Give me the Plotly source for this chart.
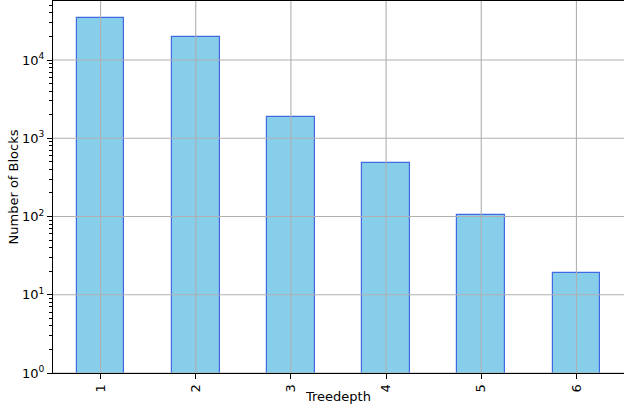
import math
import plotly.graph_objects as go

# Block counts per tree depth (log-scaled bar chart)
depths = ["1", "2", "3", "4", "5", "6"]
blocks = [34800, 19900, 1880, 482, 104, 19]

# Decade tick exponents and labels on the log axis
decade_exps = [0, 1, 2, 3, 4]
decade_labels = [f"10<sup>{e}</sup>" for e in decade_exps]
y_top_exp = 4.755

FONT = "DejaVu Sans"
GRID = "#b0b0b0"

decade_vals = [10 ** e for e in decade_exps]
minor_vals = [m * 10 ** e for e in decade_exps + [5] for m in range(2, 10)
              if m * 10 ** e < 10 ** y_top_exp]

fig = go.Figure()
fig.add_trace(go.Bar(
    x=depths, y=blocks, width=0.5,
    marker=dict(color="#87CEEB", line=dict(color="#4169E1", width=1.2)),
    showlegend=False, hoverinfo="x+y",
))

# Grid lines drawn above the bars
gx, gy = [], []
for d in depths:
    gx += [d, d, None]
    gy += [1, 10 ** y_top_exp, None]
fig.add_trace(go.Scatter(x=gx, y=gy, mode="lines",
                         line=dict(color=GRID, width=1.1),
                         showlegend=False, hoverinfo="skip"))
hx, hy = [], []
for v in decade_vals:
    hx += [-0.5, 5.5, None]
    hy += [v, v, None]
fig.add_trace(go.Scatter(x=hx, y=hy, mode="lines", xaxis="x2",
                         line=dict(color=GRID, width=1.1),
                         showlegend=False, hoverinfo="skip"))

fig.update_layout(
    width=624, height=409,
    margin=dict(l=53, r=0, t=1, b=36),
    paper_bgcolor="white", plot_bgcolor="white",
    font=dict(family=FONT, size=13, color="black"),
    xaxis=dict(
        type="category", range=[-0.5, 5.5],
        showgrid=False, zeroline=False,
        showline=True, linecolor="black", linewidth=1.1, mirror=True,
        ticks="outside", ticklen=5, tickwidth=1.1, tickcolor="black",
        tickangle=-90, tickfont=dict(size=13),
        title=dict(text="Treedepth", standoff=0, font=dict(size=13)),
    ),
    xaxis2=dict(range=[-0.5, 5.5], overlaying="x", visible=False),
    yaxis=dict(
        type="log", range=[0, y_top_exp],
        showgrid=False, zeroline=False,
        showline=True, linecolor="black", linewidth=1.1, mirror=True,
        tickmode="array", tickvals=decade_vals, ticktext=decade_labels,
        ticks="outside", ticklen=5, tickwidth=1.1, tickcolor="black",
        tickfont=dict(size=13),
        minor=dict(tickmode="array", tickvals=minor_vals, ticks="outside",
                   ticklen=3, tickwidth=0.8, tickcolor="black", showgrid=False),
        title=dict(text="Number of Blocks", standoff=0, font=dict(size=13)),
    ),
    bargap=0,
)

fig.write_html("out.html")
